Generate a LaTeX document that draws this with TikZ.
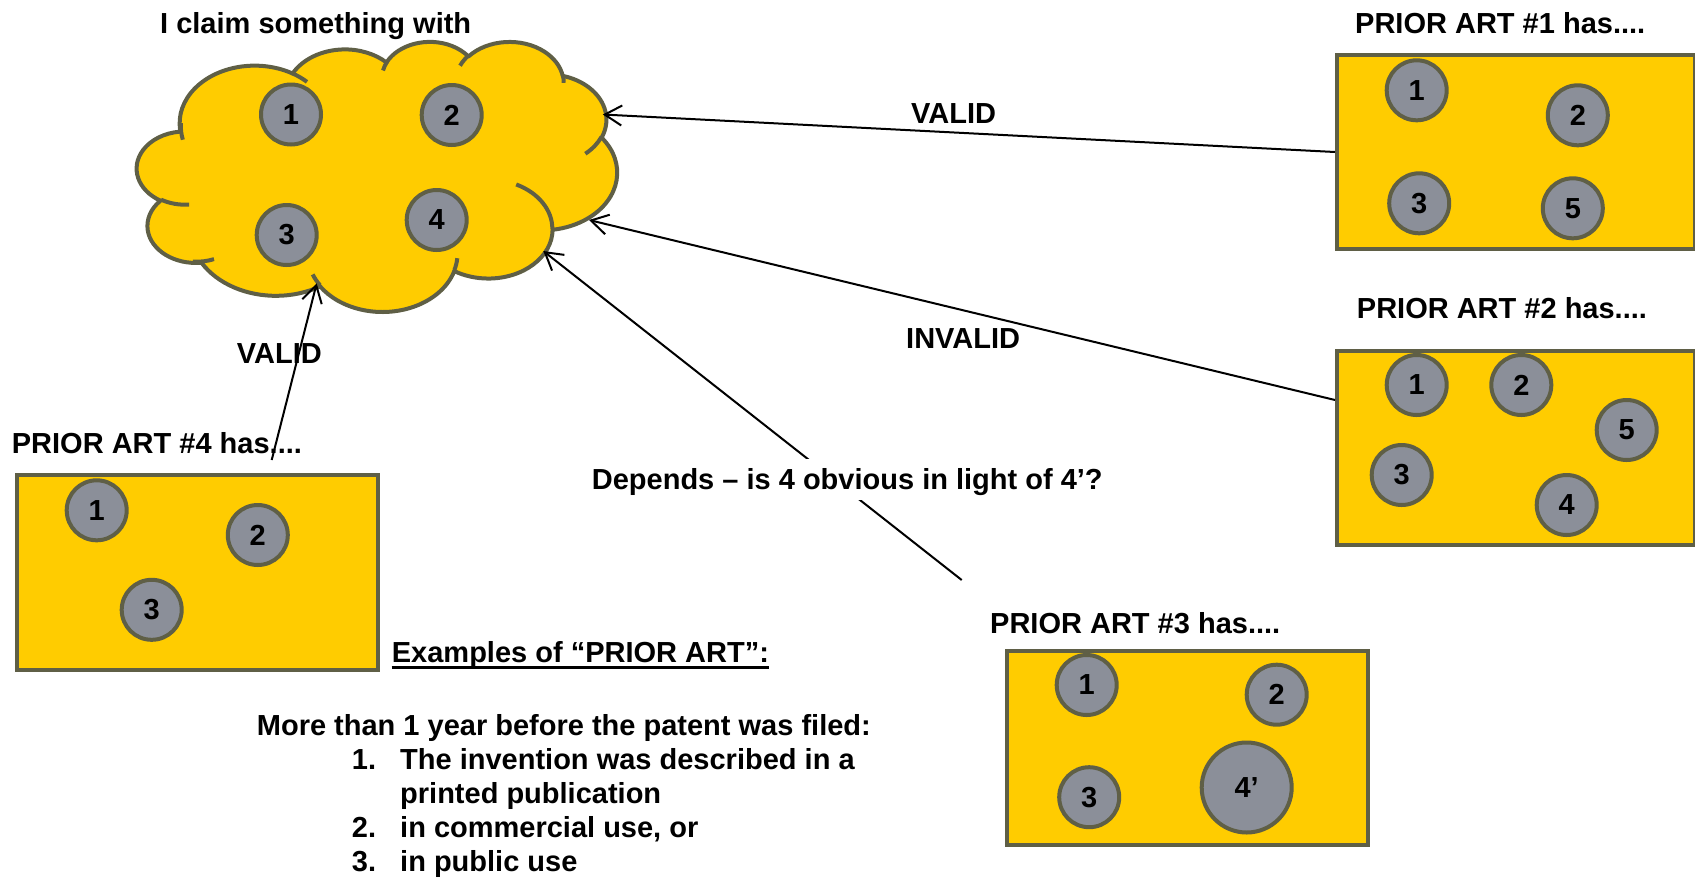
\documentclass[tikz,border=0pt]{standalone}
\usepackage{fontspec}
\setmainfont{Liberation Sans}
\usetikzlibrary{arrows.meta}
\definecolor{gold}{HTML}{FFCC00}
\definecolor{olive}{HTML}{5F5F46}
\definecolor{bubgray}{HTML}{8B8F99}
\begin{document}
\begin{tikzpicture}[x=1pt,y=1pt,
  declare function={vpd(\x,\y,\z)=atan2(\y*sin(\x),\z*cos(\x))-\x;
                    vp(\x,\y,\z)=\x+vpd(\x,\y,\z)-360*round(vpd(\x,\y,\z)/360);},
  carc/.style n args={4}{insert path={arc[x radius={#1/90},y radius={#2/160},start angle={-vp(#3,#1,#2)},end angle={-vp(#4,#1,#2)}]}},
  txt/.style={font=\fontsize{29}{34}\selectfont\bfseries, inner sep=0pt, anchor=base west},
  bub/.style={circle, draw=olive, fill=bubgray, line width=4pt, minimum size=60pt, inner sep=0pt, font=\fontsize{29}{34}\selectfont\bfseries},
  art/.style={rectangle, draw=olive, fill=gold, line width=4pt, minimum width=361pt, minimum height=194.5pt, inner sep=0pt},
  cloudfill/.style={fill=gold, draw=olive, line width=4pt, line join=round},
  cloudline/.style={draw=olive, line width=4pt},
  conn/.style={line width=2pt, -{Straight Barb[length=17pt,width=20pt]}},
]
\useasboundingbox (0,0) rectangle (1695,-879);

% ---- cloud (claim) ----
\path[cloudfill] (180.333,-130.8125)
  [carc={6753}{9190}{-190.4875}{-66.7070}]
  [carc={5333}{7267}{-144.1024}{-54.1572}]
  [carc={4365}{5945}{-145.8079}{-46.0849}]
  [carc={4857}{6595}{-130.9861}{-13.7444}]
  [carc={5333}{7273}{-78.7089}{30.3180}]
  [carc={6775}{9220}{-46.2673}{84.0017}]
  [carc={5785}{7867}{0.6250}{114.6583}]
  [carc={6752}{9215}{22.4516}{137.6242}]
  [carc={7720}{10543}{66.2426}{141.9536}]
  [carc={4360}{5918}{-274.9421}{-128.2065}]
  [carc={4345}{5945}{-246.8285}{-94.3096}]
  -- cycle;
\path[cloudline]
  (189.144,-204.606) [carc={4345}{5945}{86.7420}{113.1715}]
  (213.978,-259.119) [carc={4360}{5918}{73.6105}{92.7438}]
  (320.089,-285.3125) [carc={6752}{9215}{137.6242}{151.7053}]
  (457.3,-258.194) [carc={6752}{9215}{6.4533}{22.4517}]
  (516.211,-184.4625) [carc={5785}{7867}{-70.2924}{0.6250}]
  (601.422,-136.9625) [carc={5333}{7273}{30.3180}{58.0695}]
  (562.822,-74.9125) [carc={4857}{6595}{-13.7443}{1.1146}]
  (460.089,-65.7) [carc={4857}{6595}{-149.1815}{-130.9861}]
  (383.011,-70.5) [carc={4365}{5945}{-163.4943}{-144.8180}]
  (292.556,-73.45) [carc={6753}{9190}{-66.7070}{-54.3876}]
  (182.856,-139.681) [carc={6753}{9190}{162.0495}{184.3354}];

\node[bub] (k1) at (291,-114.5) {1};
\node[bub] (k2) at (451.7,-115) {2};
\node[bub] (k3) at (286.7,-235) {3};
\node[bub] (k4) at (436.7,-220) {4};
\node[txt] (claim) at (160,-33.3) {I claim something with};

% ---- prior art boxes ----
\node[art, minimum width=358pt] (pa1) at (1516,-152) {};
\node[art, minimum width=358pt] (pa2) at (1516,-448) {};
\node[art] (pa3) at (1187.5,-747.75) {};
\node[art] (pa4) at (197.5,-572.6) {};

\node[txt] (t1) at (1355,-33.3) {PRIOR ART \#1 has....};
\node[txt] (t2) at (1356.7,-318.3) {PRIOR ART \#2 has....};
\node[txt] (t3) at (990,-633.3) {PRIOR ART \#3 has....};
\node[txt] (t4) at (11.7,-453.3) {PRIOR ART \#4 has....};

\node[bub] (a11) at (1416.7,-90.3) {1};
\node[bub] (a12) at (1577.8,-115.3) {2};
\node[bub] (a13) at (1419.2,-203.3) {3};
\node[bub] (a15) at (1572.8,-208.3) {5};

\node[bub] (a21) at (1416.7,-385) {1};
\node[bub] (a22) at (1521.3,-385) {2};
\node[bub] (a25) at (1626.7,-430) {5};
\node[bub] (a23) at (1401.7,-475) {3};
\node[bub] (a24) at (1566.7,-505) {4};

\node[bub] (a31) at (1086.7,-685) {1};
\node[bub] (a32) at (1276.7,-694.7) {2};
\node[bub] (a33) at (1089.2,-797.2) {3};
\node[bub, minimum size=90pt] (a34) at (1246.7,-787.5) {4’};

\node[bub] (a41) at (96.7,-510.3) {1};
\node[bub] (a42) at (257.8,-535) {2};
\node[bub] (a43) at (151.7,-609.8) {3};

% ---- connectors ----
\coordinate (e1) at (602.8,-114.5);
\coordinate (e2) at (589,-220);
\coordinate (e3) at (543.3,-251);
\coordinate (e4) at (316.7,-283.3);
\coordinate (s3) at (961.7,-580);
\coordinate (s4) at (271.7,-460);

\draw[conn] (pa1.west) -- (e1);
\draw[conn] ([yshift=48pt]pa2.west) -- (e2);
\draw[conn] (s3) -- (e3);
\draw[conn] (s4) -- (e4);

\node[txt] (v1) at (911,-123.3) {VALID};
\node[txt] (inv) at (906,-348.3) {INVALID};
\node[txt] (v4) at (236.7,-363.3) {VALID};
\node[txt, fill=white, text height=30pt, text depth=11pt] (dep) at (591.7,-489) {Depends – is 4 obvious in light of 4’?};

% ---- examples text ----
\node[txt] (ex) at (391.7,-662) {Examples of “PRIOR ART”:};
\draw[line width=2.5pt] ([yshift=-5.5pt]ex.base west) -- ([yshift=-5.5pt]ex.base east);
\node[txt] (more) at (256.7,-735) {More than 1 year before the patent was filed:};
\node[txt] (n1) at (351.7,-769) {1.};
\node[txt] (l1) at (400,-769) {The invention was described in a};
\node[txt] (l1b) at (400,-803) {printed publication};
\node[txt] (n2) at (351.7,-837) {2.};
\node[txt] (l2) at (400,-837) {in commercial use, or};
\node[txt] (n3) at (351.7,-871) {3.};
\node[txt] (l3) at (400,-871) {in public use};
\end{tikzpicture}
\end{document}
